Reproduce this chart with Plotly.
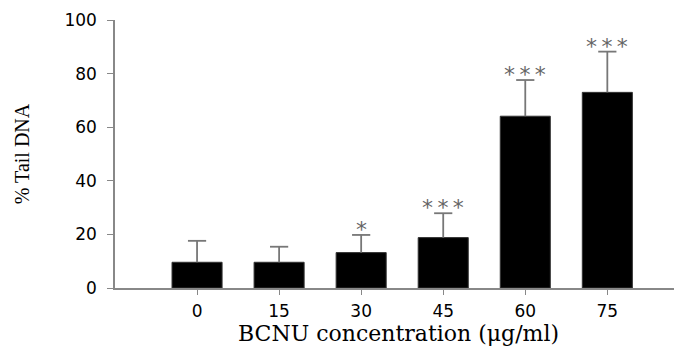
import plotly.graph_objects as go

categories = ["0", "15", "30", "45", "60", "75"]
means = [9.6, 9.6, 13.2, 18.8, 64.1, 73.0]
upper_err = [8.0, 5.8, 6.6, 9.1, 13.5, 15.2]
significance = ["", "", "*", "***", "***", "***"]
y_ticks = [0, 20, 40, 60, 80, 100]

tops = [m + e for m, e in zip(means, upper_err)]

fig = go.Figure()
fig.add_trace(go.Bar(
    x=categories, y=means, width=0.61,
    marker=dict(color="black", line=dict(color="#333", width=1)),
))
# upper error bars: vertical whisker from the bar top + a cap marker at the top
fig.add_trace(go.Scatter(
    x=categories, y=tops, mode="markers",
    marker=dict(symbol="line-ew", size=13, color="#777", line=dict(color="#777", width=1.8)),
    error_y=dict(type="data", array=[0]*len(tops), arrayminus=upper_err, symmetric=False,
                 color="#777", thickness=1.8, width=0),
))

for i, (t, s) in enumerate(zip(tops, significance)):
    if s:
        fig.add_annotation(x=i, y=t, text="\u2009".join(s), showarrow=False,
                           yanchor="bottom", yshift=-9,
                           font=dict(family="DejaVu Sans", size=22, color="#666"))

fig.update_layout(
    width=674, height=348,
    margin=dict(l=107, r=0, t=12, b=68),
    plot_bgcolor="white", paper_bgcolor="white",
    showlegend=False,
    xaxis=dict(type="category", range=[-1.0, 5.91], showline=True, linecolor="#888", linewidth=1.5,
               ticks="outside", ticklen=5, tickcolor="#888", ticklabelstandoff=2,
               tickfont=dict(family="DejaVu Sans", size=17, color="black"),
               title=dict(text="BCNU concentration (μg/ml)", standoff=4,
                          font=dict(family="DejaVu Serif", size=22, color="black"))),
    yaxis=dict(range=[0, 100], tickvals=y_ticks, showline=True, linecolor="#888", linewidth=1.5,
               ticks="outside", ticklen=6, tickcolor="#888", showgrid=False, zeroline=False,
               ticklabelstandoff=7,
               tickfont=dict(family="DejaVu Sans", size=17, color="black"),
               title=dict(text="% Tail DNA", standoff=29,
                          font=dict(family="Liberation Serif", size=20, color="black"))),
)

fig.write_html("out.html")
